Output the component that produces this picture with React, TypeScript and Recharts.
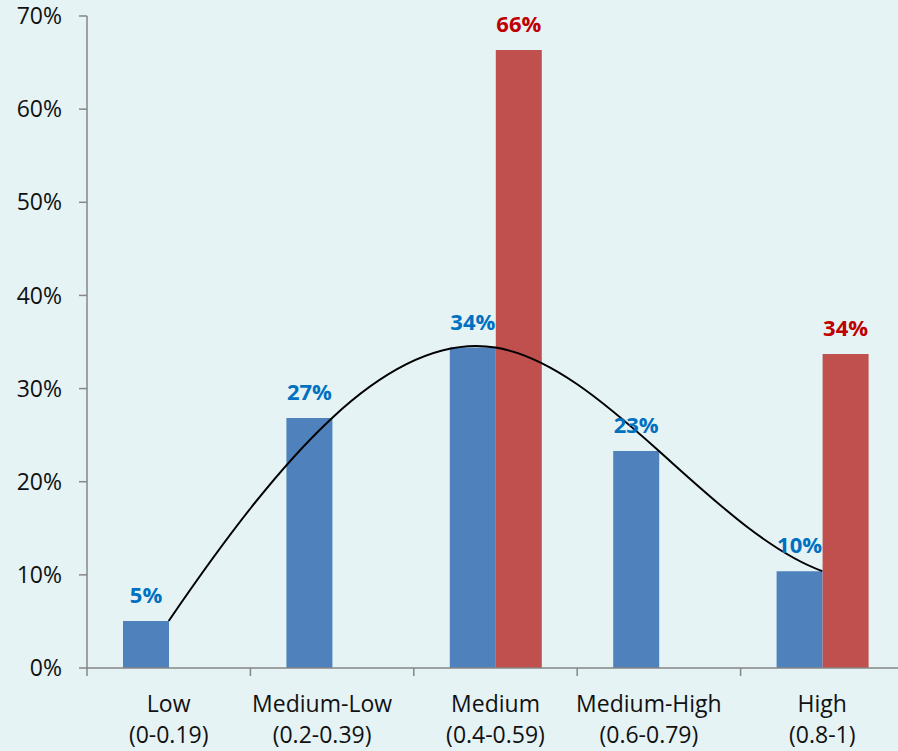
import React from 'react';
import { ComposedChart, Bar, Line, XAxis, YAxis, LabelList } from 'recharts';

const categories = ['Low', 'Medium-Low', 'Medium', 'Medium-High', 'High'];
const ranges = ['(0-0.19)', '(0.2-0.39)', '(0.4-0.59)', '(0.6-0.79)', '(0.8-1)'];
const blueValues = [5.05, 26.85, 34.4, 23.3, 10.4];
const redValues: (number | null)[] = [null, null, 66.35, null, 33.7];
const yTicks = [0, 10, 20, 30, 40, 50, 60, 70];

const data = categories.map((name, i) => ({
  name,
  range: ranges[i],
  blue: blueValues[i],
  red: redValues[i],
}));

const FONT = '"Open Sans", sans-serif';
const AXIS = '#868686';
// the two hyphenated labels sit a little left of their category in the original
const labelShift = [0, -10, 0, -10, 0];

// cubic spline through the points (not-a-knot ends), drawn as bezier pieces
const splineCurve = (context: any) => {
  let pts: [number, number][] = [];
  return {
    areaStart() {},
    areaEnd() {},
    lineStart() {
      pts = [];
    },
    point(x: number, y: number) {
      pts.push([+x, +y]);
    },
    lineEnd() {
      const n = pts.length;
      if (!n) return;
      context.moveTo(pts[0][0], pts[0][1]);
      if (n < 4) {
        for (let i = 1; i < n; i++) context.lineTo(pts[i][0], pts[i][1]);
        return;
      }
      const xs = pts.map((p) => p[0]);
      const ys = pts.map((p) => p[1]);
      const h: number[] = [];
      for (let i = 0; i < n - 1; i++) h.push(xs[i + 1] - xs[i]);
      const A: number[][] = [];
      const b: number[] = [];
      for (let i = 0; i < n; i++) {
        A.push(new Array(n).fill(0));
        b.push(0);
      }
      A[0][0] = -h[1];
      A[0][1] = h[1] + h[0];
      A[0][2] = -h[0];
      for (let i = 1; i < n - 1; i++) {
        A[i][i - 1] = h[i - 1];
        A[i][i] = 2 * (h[i - 1] + h[i]);
        A[i][i + 1] = h[i];
        b[i] = 6 * ((ys[i + 1] - ys[i]) / h[i] - (ys[i] - ys[i - 1]) / h[i - 1]);
      }
      const a = h[n - 3];
      const c = h[n - 2];
      A[n - 1][n - 3] = -c;
      A[n - 1][n - 2] = c + a;
      A[n - 1][n - 1] = -a;
      // gaussian elimination with partial pivoting
      for (let col = 0; col < n; col++) {
        let piv = col;
        for (let r = col + 1; r < n; r++) if (Math.abs(A[r][col]) > Math.abs(A[piv][col])) piv = r;
        [A[col], A[piv]] = [A[piv], A[col]];
        [b[col], b[piv]] = [b[piv], b[col]];
        for (let r = col + 1; r < n; r++) {
          const f = A[r][col] / A[col][col];
          for (let k = col; k < n; k++) A[r][k] -= f * A[col][k];
          b[r] -= f * b[col];
        }
      }
      const M = new Array(n).fill(0);
      for (let r = n - 1; r >= 0; r--) {
        let s = b[r];
        for (let k = r + 1; k < n; k++) s -= A[r][k] * M[k];
        M[r] = s / A[r][r];
      }
      for (let i = 0; i < n - 1; i++) {
        const hi = h[i];
        const sl = (ys[i + 1] - ys[i]) / hi;
        const d0 = sl - (hi * (2 * M[i] + M[i + 1])) / 6;
        const d1 = sl + (hi * (M[i] + 2 * M[i + 1])) / 6;
        context.bezierCurveTo(
          xs[i] + hi / 3,
          ys[i] + (d0 * hi) / 3,
          xs[i + 1] - hi / 3,
          ys[i + 1] - (d1 * hi) / 3,
          xs[i + 1],
          ys[i + 1]
        );
      }
    },
  };
};

const makeLabel = (color: string) => (props: any) => {
  const { x, y, width, value } = props;
  if (value === null || value === undefined) return null;
  return (
    <text
      x={Number(x) + Number(width) / 2}
      y={Number(y) - 18}
      textAnchor="middle"
      fill={color}
      fontFamily={FONT}
      fontWeight="bold"
      fontSize={22}
    >
      {Math.round(Number(value))}%
    </text>
  );
};

const XTick = (props: any) => {
  const { x, y, payload, index } = props;
  const left = payload.coordinate - (payload.offset || 0);
  const cx = x + (labelShift[index] || 0);
  return (
    <g>
      <line x1={left} y1={y} x2={left} y2={y + 8} stroke={AXIS} strokeWidth={1.5} />
      <text x={cx} y={y + 44} textAnchor="middle" fill="#111" fontFamily={FONT} fontSize={23}>
        {payload.value}
      </text>
      <text x={cx} y={y + 75} textAnchor="middle" fill="#111" fontFamily={FONT} fontSize={23}>
        {ranges[index]}
      </text>
    </g>
  );
};

export default function App() {
  return (
    <div
      style={{
        position: 'absolute',
        left: 0,
        top: 0,
        width: 898,
        height: 751,
        overflow: 'hidden',
        background: '#e5f3f5',
      }}
    >
      <ComposedChart
        width={904}
        height={751}
        data={data}
        margin={{ top: 16, right: 0, left: 0, bottom: 0 }}
        barGap={0}
      >
        <XAxis
          dataKey="name"
          height={83}
          interval={0}
          tickSize={0}
          tickMargin={0}
          tickLine={false}
          axisLine={{ stroke: AXIS, strokeWidth: 1.5 }}
          tick={<XTick />}
        />
        <YAxis
          width={87}
          domain={[0, 70]}
          ticks={yTicks}
          interval={0}
          tickFormatter={(v: number) => `${v}%`}
          tickSize={8}
          tickMargin={17}
          axisLine={{ stroke: AXIS, strokeWidth: 1.5 }}
          tickLine={{ stroke: AXIS, strokeWidth: 1.5 }}
          tick={{ fill: '#111', fontFamily: FONT, fontSize: 23 }}
        />
        <Bar dataKey="blue" fill="#4f81bd" barSize={46} isAnimationActive={false}>
          <LabelList dataKey="blue" content={makeLabel('#0070c0')} />
        </Bar>
        <Bar dataKey="red" fill="#c0504d" barSize={46} isAnimationActive={false}>
          <LabelList dataKey="red" content={makeLabel('#c00000')} />
        </Bar>
        <Line
          dataKey="blue"
          type={splineCurve as any}
          stroke="#000"
          strokeWidth={2}
          dot={false}
          activeDot={false}
          isAnimationActive={false}
        />
      </ComposedChart>
    </div>
  );
}
